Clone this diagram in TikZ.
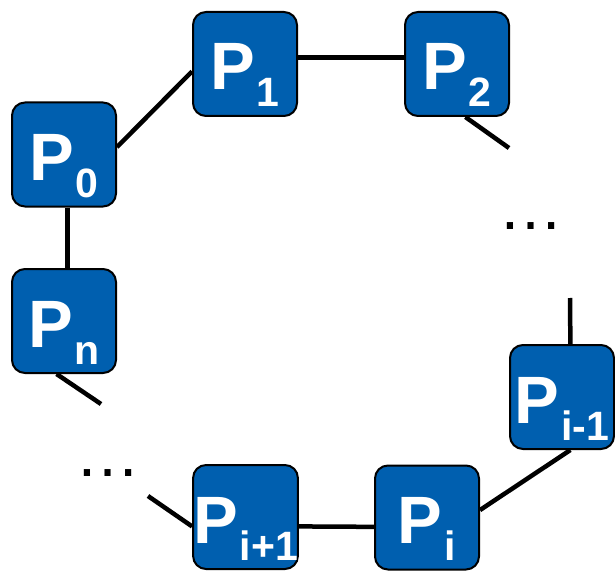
\documentclass[tikz,border=0pt]{standalone}
\usepackage{fontspec}
\setmainfont{Liberation Sans}
\newcommand{\procsub}[1]{\kern2pt\raisebox{-17pt}{\fontsize{41}{41}\selectfont #1}}
\begin{document}
\begin{tikzpicture}[x=1pt,y=-1pt,
  proc/.style={shape=rectangle,rounded corners=13pt,draw,line width=2pt,fill=proc_blue,minimum width=104pt,minimum height=104pt,inner sep=0pt,text=white,font=\fontsize{67}{67}\selectfont\bfseries,text height=52pt,text depth=0pt},
  link/.style={line width=4.5pt},
  gap/.style={anchor=base,inner sep=0pt,font=\fontsize{65}{65}\selectfont}]
\definecolor{proc_blue}{RGB}{0,95,175}
\useasboundingbox (0,0) rectangle (615,572);

\node[proc] (p0) at (64,154.5) {P\procsub{0}};
\node[proc] (p1) at (245,64) {P\procsub{1}};
\node[proc] (p2) at (457,64) {P\procsub{2}};
\node[proc] (pn) at (64,321) {P\procsub{n}};
\node[proc] (pim) at (562,397) {P\procsub{i-1}};
\node[proc] (pi) at (427,517.5) {P\procsub{i}};
\node[proc] (pip) at (245.5,517) {P\procsub{i+1}};

\node[gap] (dotsr) at (531,229) {…};
\node[gap] (dotsl) at (107.5,476) {…};

\coordinate (c2) at (509,148);
\coordinate (cim) at (570,298);
\coordinate (cip) at (148,496);
\coordinate (cn) at (101,404);

\draw[link] (p0.8) to (p1.188);
\draw[link] (p1.7) to (p2.173);
\draw[link] (p2.-81) to (c2);
\draw[link] (cim) to (pim.81);
\draw[link] (pim.-81) to (pi.8);
\draw[link] (pi.190) to (pip.-10);
\draw[link] (pip.190) to (cip);
\draw[link] (pn.-98) to (cn);
\draw[link] (p0.-86) to (pn.86);
\end{tikzpicture}
\end{document}
